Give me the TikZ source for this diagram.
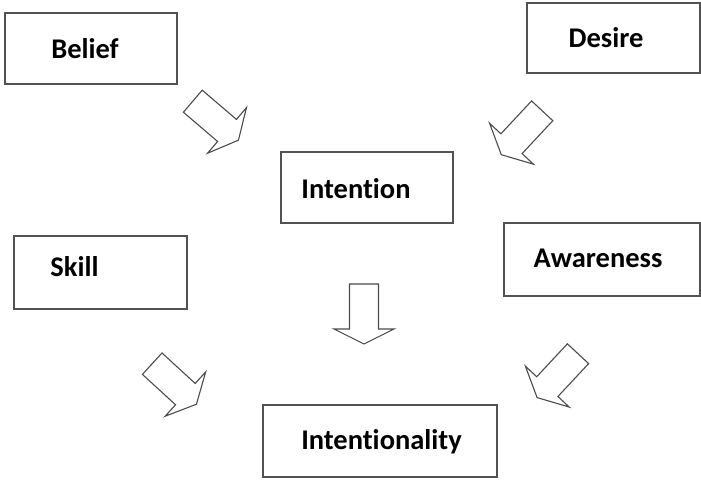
\documentclass[tikz,border=0pt]{standalone}
\usepackage{fontspec}
\setmainfont{Carlito}[Ligatures={NoCommon}]
\tikzset{
  box/.style={draw=black!68, line width=1.7pt, rectangle, inner sep=0pt},
  lbl/.style={font=\fontsize{28.5}{32}\selectfont\bfseries, text=black},
  barrow/.style={draw=black!70, line width=1.1pt, fill=white, line join=miter},
}
\newcommand\blockarrow[3]{%
  \coordinate (#3) at #1;
  \draw[barrow, shift={(#3)}, rotate=#2]
    (0,-14.5) -- (45,-14.5) -- (45,-30) -- (60,0) -- (45,30) -- (45,14.5) -- (0,14.5) -- cycle;}
\begin{document}
\begin{tikzpicture}[x=1pt,y=-1pt]
\useasboundingbox (0,0) rectangle (701,479);
% boxes: center, size
\node[box, minimum width=172pt, minimum height=71pt,
  label={[lbl, xshift=-6pt]center:Belief}] (belief) at (91,48.5) {};
\node[box, minimum width=173pt, minimum height=70pt,
  label={[lbl, xshift=-7.5pt]center:Desire}] (desire) at (613.5,38) {};
\node[box, minimum width=172pt, minimum height=71pt,
  label={[lbl, xshift=-11pt, yshift=-1.5pt]center:Intention}] (intention) at (367,187.5) {};
\node[box, minimum width=173pt, minimum height=73pt,
  label={[lbl, xshift=-26pt, yshift=5.5pt]center:Skill}] (skill) at (100.5,272.5) {};
\node[box, minimum width=196pt, minimum height=73pt,
  label={[lbl, xshift=-4pt, yshift=1.5pt]center:Awareness}] (awareness) at (602,259.5) {};
\node[box, minimum width=234pt, minimum height=72pt,
  label={[lbl, xshift=1.5pt, yshift=-1pt]center:Intentionality}] (intentionality) at (380,441) {};
% block arrows: tail middle, angle (canvas), name
\blockarrow{(192.8,101.2)}{-40.5}{a1}
\blockarrow{(542.2,110.8)}{-133}{a2}
\blockarrow{(364,284)}{-90}{a3}
\blockarrow{(152.2,363.7)}{-42.5}{a4}
\blockarrow{(578,353.7)}{-133}{a5}
\end{tikzpicture}
\end{document}
